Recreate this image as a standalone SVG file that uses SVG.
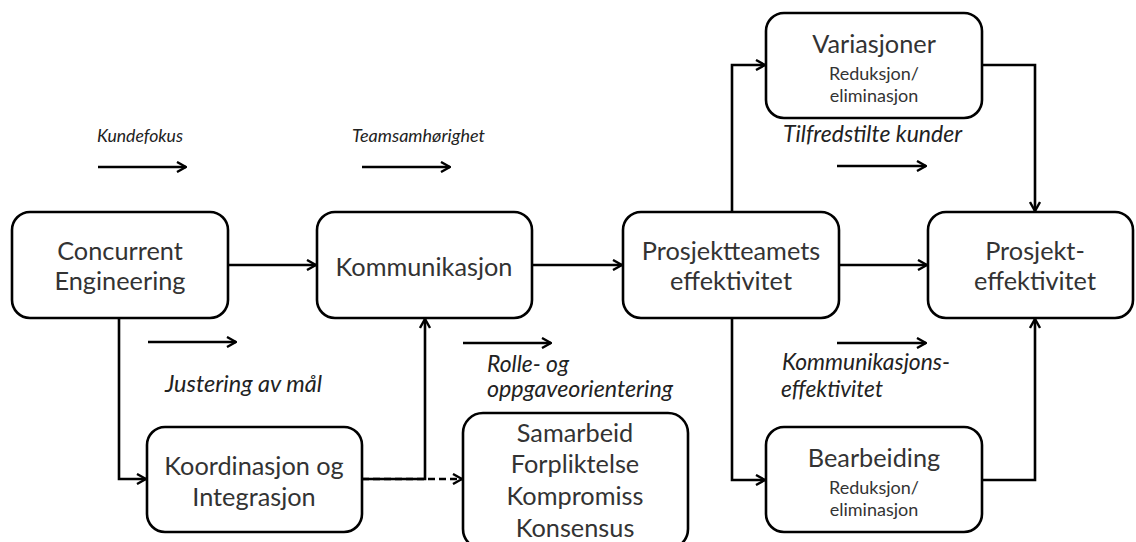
<svg xmlns="http://www.w3.org/2000/svg" width="1136" height="542" viewBox="0 0 1136 542">
  <style>
    .box { fill: #ffffff; stroke: #000000; stroke-width: 2.6; }
    .main { font-family: Lato, "Open Sans", sans-serif; font-size: 25.3px; fill: #333333; text-anchor: middle; }
    .sub { font-family: Lato, "Open Sans", sans-serif; font-size: 18px; fill: #333333; text-anchor: middle; }
    .lbl { font-family: Lato, "Open Sans", sans-serif; font-size: 22.5px; font-style: italic; fill: #222222; }
    .lbl.small { font-size: 17.5px; }
    .wire { fill: none; stroke: #000000; stroke-width: 2.6; }
    .dash { stroke-dasharray: 7 4; }
  </style>
  <defs>
    <marker id="arrow" viewBox="0 0 12 12" refX="11" refY="6" markerWidth="12" markerHeight="12" markerUnits="userSpaceOnUse" orient="auto">
      <path d="M2,1 L11,6 L2,11" fill="none" stroke="#000000" stroke-width="2.4" stroke-linejoin="miter"/>
    </marker>
  </defs>
  <rect width="1136" height="542" fill="#ffffff"/>

  <!-- connectors between nodes -->
  <g id="connectors">
    <path class="wire" d="M228,265 H316" marker-end="url(#arrow)"/>
    <path class="wire" d="M532,265 H622" marker-end="url(#arrow)"/>
    <path class="wire" d="M839,265 H927" marker-end="url(#arrow)"/>
    <path class="wire" d="M119,318 V479 H146" marker-end="url(#arrow)"/>
    <path class="wire" d="M362,479 H425 V319" marker-end="url(#arrow)"/>
    <path class="wire dash" d="M362,479 H462" marker-end="url(#arrow)"/>
    <path class="wire" d="M732,212 V65 H765" marker-end="url(#arrow)"/>
    <path class="wire" d="M982,65 H1035 V211" marker-end="url(#arrow)"/>
    <path class="wire" d="M732,318 V480 H765" marker-end="url(#arrow)"/>
    <path class="wire" d="M982,480 H1035 V319" marker-end="url(#arrow)"/>
  </g>

  <!-- free-standing factor arrows with their labels -->
  <g id="factors">
    <path class="wire" d="M98,167 H186" marker-end="url(#arrow)"/>
    <path class="wire" d="M362,167 H450" marker-end="url(#arrow)"/>
    <path class="wire" d="M837,166 H926" marker-end="url(#arrow)"/>
    <path class="wire" d="M148,342 H236" marker-end="url(#arrow)"/>
    <path class="wire" d="M463,343 H551" marker-end="url(#arrow)"/>
    <path class="wire" d="M837,343 H926" marker-end="url(#arrow)"/>
    <text class="lbl small" x="97" y="142" textLength="86" lengthAdjust="spacingAndGlyphs">Kundefokus</text>
    <text class="lbl small" x="352" y="142" textLength="133" lengthAdjust="spacingAndGlyphs">Teamsamhørighet</text>
    <text class="lbl" x="783" y="142" textLength="179" lengthAdjust="spacingAndGlyphs">Tilfredstilte kunder</text>
    <text class="lbl" x="165" y="392" textLength="157" lengthAdjust="spacingAndGlyphs">Justering av mål</text>
    <text class="lbl" x="487" y="372" textLength="82" lengthAdjust="spacingAndGlyphs">Rolle- og</text>
    <text class="lbl" x="487" y="397" textLength="186" lengthAdjust="spacingAndGlyphs">oppgaveorientering</text>
    <text class="lbl" x="782" y="370" textLength="168" lengthAdjust="spacingAndGlyphs">Kommunikasjons-</text>
    <text class="lbl" x="781" y="397" textLength="102" lengthAdjust="spacingAndGlyphs">effektivitet</text>
  </g>

  <g id="concurrent-engineering">
    <rect class="box" x="12" y="212" width="216" height="106" rx="18"/>
    <text class="main" x="120" y="260">Concurrent</text>
    <text class="main" x="120" y="290">Engineering</text>
  </g>

  <g id="kommunikasjon">
    <rect class="box" x="317" y="212" width="215" height="106" rx="18"/>
    <text class="main" x="424" y="276">Kommunikasjon</text>
  </g>

  <g id="prosjektteamets-effektivitet">
    <rect class="box" x="623" y="212" width="216" height="106" rx="18"/>
    <text class="main" x="731" y="260">Prosjektteamets</text>
    <text class="main" x="731" y="290">effektivitet</text>
  </g>

  <g id="prosjekt-effektivitet">
    <rect class="box" x="928" y="212" width="205" height="106" rx="18"/>
    <text class="main" x="1035" y="260">Prosjekt-</text>
    <text class="main" x="1035" y="290">effektivitet</text>
  </g>

  <g id="variasjoner">
    <rect class="box" x="766" y="13" width="216" height="105" rx="18"/>
    <text class="main" x="874" y="53">Variasjoner</text>
    <text class="sub" x="874" y="80">Reduksjon/</text>
    <text class="sub" x="874" y="102">eliminasjon</text>
  </g>

  <g id="bearbeiding">
    <rect class="box" x="766" y="427" width="216" height="105" rx="18"/>
    <text class="main" x="874" y="467">Bearbeiding</text>
    <text class="sub" x="874" y="494">Reduksjon/</text>
    <text class="sub" x="874" y="516">eliminasjon</text>
  </g>

  <g id="koordinasjon">
    <rect class="box" x="147" y="427" width="215" height="105" rx="18"/>
    <text class="main" x="254" y="475">Koordinasjon og</text>
    <text class="main" x="254" y="506">Integrasjon</text>
  </g>

  <g id="samarbeid">
    <rect class="box" x="463" y="413" width="225" height="136" rx="20"/>
    <text class="main" x="575" y="442">Samarbeid</text>
    <text class="main" x="575" y="473">Forpliktelse</text>
    <text class="main" x="575" y="505">Kompromiss</text>
    <text class="main" x="575" y="537">Konsensus</text>
  </g>
</svg>
